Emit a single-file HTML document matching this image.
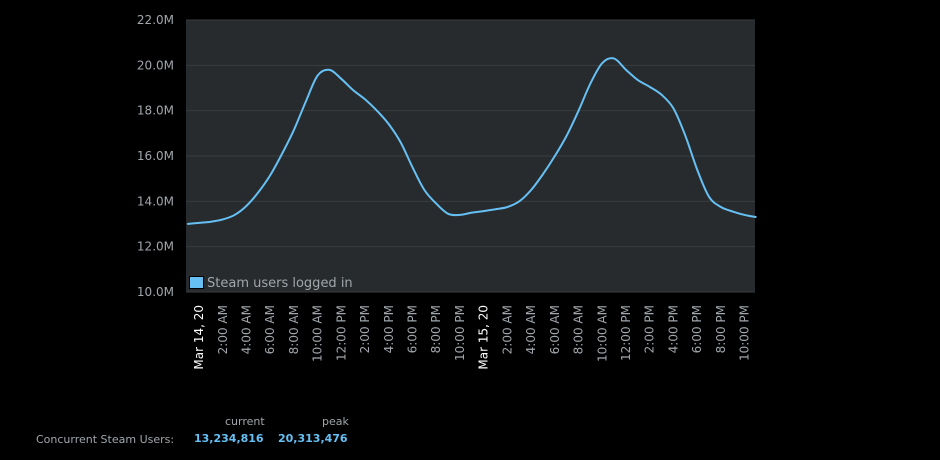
<!DOCTYPE html>
<html><head><meta charset="utf-8"><style>
body{margin:0;background:#000;width:940px;height:460px;overflow:hidden;font-family:"DejaVu Sans","Liberation Sans",sans-serif}
svg{position:absolute;left:0;top:0}
.stat{position:absolute;font-size:11px;color:#a0a6ab;top:0;left:0}
</style></head><body>
<svg id="chart" width="940" height="400"></svg>
<div class="stat" style="left:225px;top:415px">current</div>
<div class="stat" style="left:322px;top:415px">peak</div>
<div class="stat" style="left:36px;top:433px">Concurrent Steam Users:</div>
<div class="stat" style="left:194px;top:432px;color:#66c0f4;font-weight:bold">13,234,816</div>
<div class="stat" style="left:278px;top:432px;color:#66c0f4;font-weight:bold">20,313,476</div>
<script>
const hours=[-1,0,1,2,3,4,5,6,7,8,9,10,11,12,13,14,15,16,17,18,19,20,21,22,23,24,25,26,27,28,29,30,31,32,33,34,35,36,37,38,39,40,41,42,43,44,45,46,47];
const users=[13.0,13.05,13.1,13.2,13.4,13.8,14.4,15.15,16.1,17.15,18.4,19.55,19.8,19.4,18.9,18.5,18.0,17.4,16.6,15.5,14.5,13.9,13.45,13.4,13.5,13.57,13.65,13.75,14.0,14.5,15.2,16.0,16.9,18.0,19.2,20.1,20.3,19.8,19.35,19.05,18.7,18.1,16.9,15.4,14.2,13.75,13.55,13.4,13.3];
const yTicks=[10,12,14,16,18,20,22];
const xLabels=["Mar 14, 20","2:00 AM","4:00 AM","6:00 AM","8:00 AM","10:00 AM","12:00 PM","2:00 PM","4:00 PM","6:00 PM","8:00 PM","10:00 PM","Mar 15, 20","2:00 AM","4:00 AM","6:00 AM","8:00 AM","10:00 AM","12:00 PM","2:00 PM","4:00 PM","6:00 PM","8:00 PM","10:00 PM"];
const L=186,R=755,T=20,B=292;
const X=t=>L+(t+1.1)*11.86;
const Y=v=>B-(v-10)/12*(B-T);
const NS="http://www.w3.org/2000/svg";
const svg=document.getElementById('chart');
function mk(tag,attrs){const e=document.createElementNS(NS,tag);for(const k in attrs)e.setAttribute(k,attrs[k]);svg.appendChild(e);return e;}
const bg=mk('rect',{x:L,y:T,width:R-L,height:B-T,fill:'#272b2d'});


yTicks.forEach(v=>{
  const g=mk('line',{x1:L,x2:R,y1:Y(v),y2:Y(v),stroke:'#383c3e','stroke-width':1});
  
  
  const t=mk('text',{x:174,y:Y(v)+4,'text-anchor':'end',fill:'#a0a6ab','font-size':12,'font-family':'DejaVu Sans, sans-serif'});
  t.textContent=v.toFixed(1)+'M';
  
  
});
xLabels.forEach((s,i)=>{
  const x=X(i*2)+4;
  const t=mk('text',{x:0,y:0,transform:`translate(${x},305) rotate(-90)`,'text-anchor':'end',fill:(i%12==0)?'#ffffff':'#a0a6ab','font-size':12,'font-family':'DejaVu Sans, sans-serif'});
  t.textContent=s;
  
  
});
// smooth path (catmull-rom)
const pts=hours.map((h,i)=>[X(h),Y(users[i])]);
let d=`M${pts[0][0]},${pts[0][1]}`;
for(let i=0;i<pts.length-1;i++){
  const p0=pts[Math.max(0,i-1)],p1=pts[i],p2=pts[i+1],p3=pts[Math.min(pts.length-1,i+2)];
  const c1=[p1[0]+(p2[0]-p0[0])/6,p1[1]+(p2[1]-p0[1])/6];
  const c2=[p2[0]-(p3[0]-p1[0])/6,p2[1]-(p3[1]-p1[1])/6];
  d+=` C${c1[0]},${c1[1]} ${c2[0]},${c2[1]} ${p2[0]},${p2[1]}`;
}
const ln=mk('path',{d:d,fill:'none',stroke:'#66c0f4','stroke-width':2,'clip-path':'url(#clip)'});


const sw=mk('rect',{x:189.5,y:276.5,width:14,height:12,fill:'#66c0f4',stroke:'#000','stroke-width':1});


const lt=mk('text',{x:207,y:287,fill:'#a0a6ab','font-size':13,'font-family':'DejaVu Sans, sans-serif'});
lt.textContent='Steam users logged in';


</script>
</body></html>
